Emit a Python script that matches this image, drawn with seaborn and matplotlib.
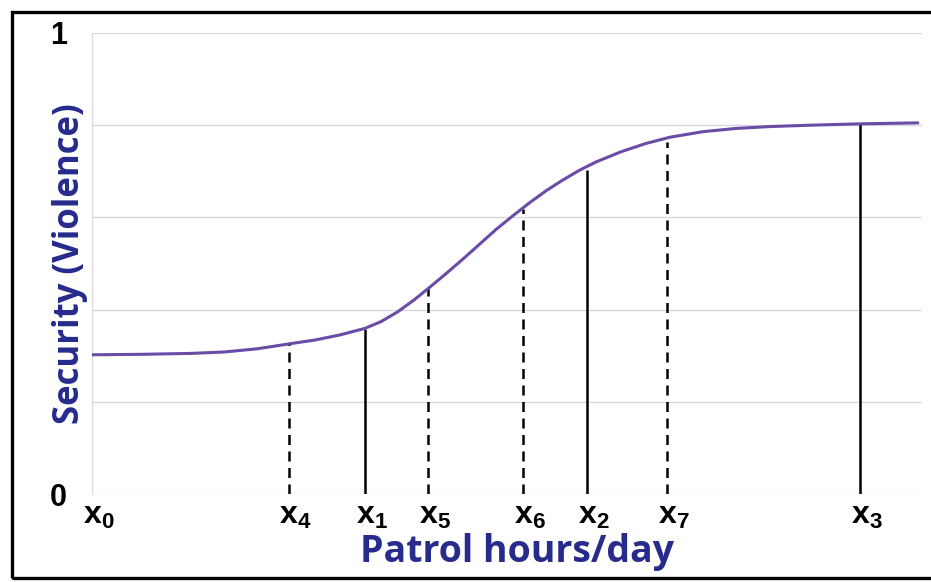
import matplotlib
matplotlib.use("Agg")
import matplotlib.pyplot as plt
from matplotlib.patches import Rectangle
from matplotlib.transforms import ScaledTranslation
import pandas as pd
import seaborn as sns

# curve (patrol hours on a 0-10 scale, security 0-1)
curve_x = [0.0, 0.6, 1.2, 1.6, 2.0, 2.4, 2.7, 3.0, 3.3, 3.5, 3.7, 3.9, 4.1,
           4.3, 4.5, 4.7, 4.9, 5.1, 5.3, 5.5, 5.7, 5.9, 6.1, 6.4, 6.7, 7.0,
           7.4, 7.8, 8.2, 8.7, 9.3, 10.0]
curve_y = [0.302, 0.303, 0.305, 0.308, 0.315, 0.326, 0.334, 0.345, 0.359,
           0.374, 0.395, 0.421, 0.450, 0.480, 0.511, 0.543, 0.575, 0.604,
           0.632, 0.658, 0.681, 0.702, 0.720, 0.742, 0.760, 0.774, 0.786,
           0.793, 0.797, 0.800, 0.803, 0.805]

# marked points along the x axis
point_names = ["x4", "x1", "x5", "x6", "x2", "x7", "x3"]
point_x = [2.38, 3.30, 4.07, 5.22, 5.99, 6.96, 9.30]
point_top = [0.328, 0.358, 0.449, 0.618, 0.703, 0.763, 0.803]
point_dashed = [True, False, True, True, False, True, False]

tick_x = [0.0] + point_x
tick_labels = ["x0"] + point_names
ytick_vals = [0, 0.2, 0.4, 0.6, 0.8, 1.0]
ytick_labels = ["0", "", "", "", "", "1"]

NAVY = "#262B8C"
CURVE = "#6B4BA6"

sns.set_theme(style="white")
plt.rcParams["mathtext.fontset"] = "custom"
plt.rcParams["mathtext.rm"] = "Liberation Sans"
plt.rcParams["mathtext.bf"] = "Liberation Sans:bold"
plt.rcParams["mathtext.it"] = "Liberation Sans:italic"

fig = plt.figure(figsize=(9.31, 5.82), dpi=100)
ax = fig.add_axes([92 / 931, 1 - 494 / 582, (922 - 92) / 931, (494 - 33) / 582])

df = pd.DataFrame({"hours": curve_x, "security": curve_y})
sns.lineplot(data=df, x="hours", y="security", color=CURVE, lw=2.2, ax=ax, zorder=3)

for x, top, dashed in zip(point_x, point_top, point_dashed):
    ax.vlines(x, 0, top, colors="black", lw=1.8,
              linestyles=(0, (4, 2.6)) if dashed else "solid", zorder=2)

ax.set_xlim(0, 10.05)
ax.set_ylim(0, 1)
ax.set_yticks(ytick_vals, ytick_labels)
ax.grid(axis="y", color="#D4D4E0", lw=0.9)
ax.grid(axis="x", visible=False)
for side in ["top", "right", "bottom"]:
    ax.spines[side].set_visible(False)
ax.spines["left"].set_color("#DADADA")
ax.spines["left"].set_linewidth(0.9)

ax.set_xticks(tick_x, [rf"$\mathbf{{x_{n[1:]}}}$" for n in tick_labels])
ax.tick_params(axis="x", length=0, pad=4, labelsize=23, labelcolor="black")
ax.tick_params(axis="y", length=0, pad=18, labelsize=22, labelcolor="black")
for lab in ax.get_yticklabels():
    lab.set_fontfamily("Liberation Sans")
    lab.set_fontweight("bold")
for lab in ax.get_xticklabels():
    lab.set_transform(lab.get_transform() + ScaledTranslation(0.07, 0, fig.dpi_scale_trans))

ax.set_xlabel("Patrol hours/day", fontsize=27, fontweight="bold", color=NAVY,
              fontfamily="Open Sans", labelpad=2)
ax.xaxis.set_label_coords(0.512, -0.085)
ax.xaxis.label.set_va("top")
ax.set_ylabel("Security (Violence)", fontsize=25, fontweight="bold", color=NAVY,
              fontfamily="Open Sans")
ax.yaxis.set_label_coords(-0.005, 0.5)

# outer frame of the slide picture
fig.patches.append(Rectangle((12 / 931, 4 / 582), 1.2, 1 - 16 / 582,
                             transform=fig.transFigure, fill=False,
                             edgecolor="black", lw=2.4))

fig.savefig("out.png", dpi=100)
